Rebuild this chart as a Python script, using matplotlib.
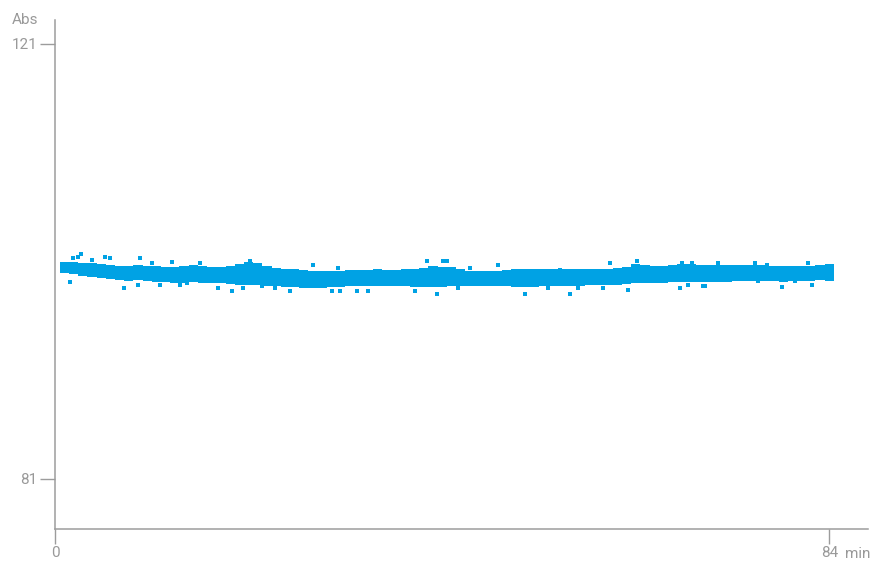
import matplotlib.pyplot as plt

plt.rcParams.update({
    "font.family": ["Roboto", "DejaVu Sans"],
    "font.size": 11,
})

# core of the absorbance band, one value pair per minute
minutes = list(range(1, 85))
band_top = [
    100.96, 100.96, 100.87, 100.87, 100.78, 100.69, 100.59, 100.59, 100.69, 100.59,
    100.59, 100.50, 100.50, 100.59, 100.69, 100.59, 100.50, 100.50, 100.59, 100.78,
    100.96, 100.87, 100.59, 100.41, 100.32, 100.32, 100.23, 100.13, 100.13, 100.13,
    100.13, 100.23, 100.23, 100.23, 100.32, 100.23, 100.23, 100.32, 100.32, 100.41,
    100.59, 100.50, 100.50, 100.32, 100.13, 100.13, 100.13, 100.13, 100.23, 100.32,
    100.32, 100.32, 100.32, 100.32, 100.32, 100.32, 100.32, 100.32, 100.32, 100.32,
    100.41, 100.50, 100.78, 100.69, 100.59, 100.59, 100.69, 100.78, 100.78, 100.69,
    100.69, 100.69, 100.69, 100.69, 100.69, 100.69, 100.69, 100.59, 100.59, 100.59,
    100.59, 100.59, 100.69, 100.78,
]
band_bottom = [
    99.93, 99.84, 99.66, 99.57, 99.47, 99.38, 99.29, 99.20, 99.29, 99.20,
    99.11, 99.11, 99.01, 99.01, 99.11, 99.01, 99.01, 99.01, 98.92, 98.83,
    98.83, 98.83, 98.74, 98.74, 98.65, 98.65, 98.56, 98.56, 98.56, 98.65,
    98.65, 98.74, 98.74, 98.74, 98.74, 98.74, 98.74, 98.74, 98.65, 98.65,
    98.65, 98.65, 98.74, 98.74, 98.74, 98.74, 98.74, 98.74, 98.74, 98.65,
    98.65, 98.65, 98.74, 98.74, 98.74, 98.74, 98.74, 98.83, 98.83, 98.83,
    98.83, 98.92, 99.01, 99.01, 99.01, 99.01, 99.11, 99.11, 99.11, 99.11,
    99.11, 99.11, 99.11, 99.20, 99.20, 99.20, 99.20, 99.20, 99.11, 99.20,
    99.20, 99.20, 99.29, 99.20,
]

# scattered readings outside the dense core
spread_min = [
    2.82, 2.50, 1.95, 4.02, 5.43, 5.97, 1.63, 7.49, 9.01, 10.53,
    11.40, 12.70, 13.57, 9.23, 15.74, 17.69, 19.21, 21.16, 20.40, 22.47,
    23.88, 25.50, 28.00, 14.33, 30.06, 30.93, 32.78, 33.97, 30.71, 40.37,
    42.11, 41.46, 39.07, 42.54, 48.08, 51.01, 55.89, 54.81, 53.51, 45.04,
    43.74, 60.23, 63.16, 62.19, 56.76, 59.48, 67.83, 68.70, 70.33, 68.05,
    69.13, 71.95, 70.54, 78.90, 82.16, 75.97, 77.27, 80.31, 81.72, 76.30,
]
spread_abs = [
    101.69, 101.41, 101.32, 101.14, 101.41, 101.32, 99.11, 98.56, 98.84, 100.86,
    98.84, 100.95, 98.84, 101.32, 100.86, 98.56, 98.29, 101.05, 98.56, 98.75,
    98.56, 98.29, 100.68, 99.02, 98.29, 98.29, 98.29, 98.29, 100.40, 101.05,
    101.05, 98.01, 98.29, 101.05, 100.68, 98.01, 98.01, 100.22, 98.56, 100.40,
    98.56, 100.86, 101.05, 98.38, 98.56, 98.56, 98.56, 98.84, 98.75, 100.86,
    100.86, 100.86, 98.75, 98.66, 98.84, 100.86, 100.68, 99.21, 100.86, 99.21,
]

x_ticks = [0, 84]
y_ticks = [81, 121]

blue = "#00a2e4"
grey = "#9c9c9c"
label_grey = "#999999"

fig = plt.figure(figsize=(8.72, 5.61), dpi=100)
ax = fig.add_axes([0.0631, 0.0570, 0.9323, 0.9073])

heights = [t - b for t, b in zip(band_top, band_bottom)]
ax.bar(minutes, heights, width=1.0, bottom=band_bottom, color=blue, linewidth=0)
ax.scatter(spread_min, spread_abs, marker="s", s=6, color=blue, linewidths=0)

ax.set_xlim(0, 88.2)
ax.set_ylim(76.4, 123.2)

for side in ["top", "right"]:
    ax.spines[side].set_visible(False)
for side in ["left", "bottom"]:
    ax.spines[side].set_color(grey)
    ax.spines[side].set_linewidth(1.1)

ax.set_xticks(x_ticks)
ax.set_xticklabels([str(v) for v in x_ticks])
ax.set_yticks(y_ticks)
ax.set_yticklabels([str(v) for v in y_ticks])
ax.tick_params(axis="both", length=10.5, width=1.0, color=grey,
               labelcolor=label_grey, labelsize=11, pad=2)

ax.annotate("min", xy=(84, 0), xycoords=("data", "axes fraction"),
            xytext=(11, -13.2), textcoords="offset points",
            ha="left", va="top", color=label_grey, fontsize=11)
ax.annotate("Abs", xy=(0, 1), xycoords="axes fraction",
            xytext=(-31, 0), textcoords="offset points",
            ha="left", va="center", color=label_grey, fontsize=11)

fig.savefig("out.png", dpi=100)
